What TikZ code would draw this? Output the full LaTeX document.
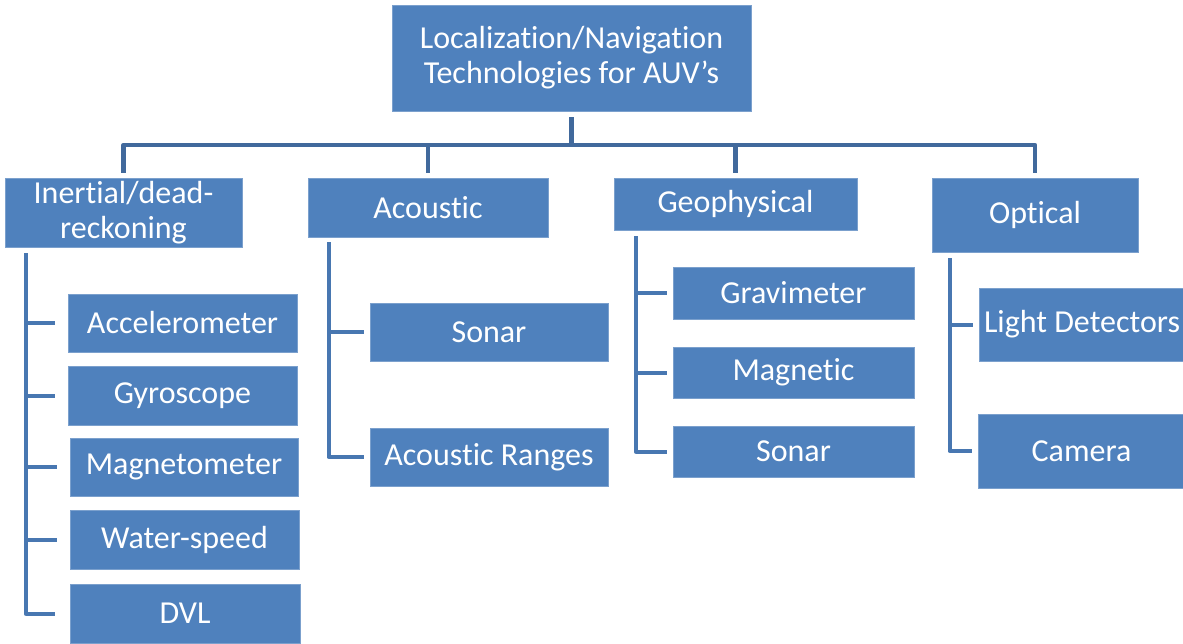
\documentclass[tikz,border=0pt]{standalone}
\usepackage{fontspec}
\setmainfont{Carlito}[Ligatures=NoCommon]
\definecolor{boxblue}{HTML}{4F81BD}
\definecolor{trunkblue}{HTML}{41699C}
\definecolor{branchblue}{HTML}{4877B1}
\tikzset{
  box/.style={rectangle, fill=boxblue, draw=boxblue!75!white, line width=0.8pt,
    inner sep=0pt, text=white, align=center,
    font=\fontsize{32}{35}\selectfont},
  trunk/.style={draw=trunkblue, line width=4.5pt, line join=round},
  branch/.style={draw=branchblue, line width=4pt, line join=round},
}
\begin{document}
\begin{tikzpicture}[x=1pt, y=-1pt]
\useasboundingbox (0,0) rectangle (1183,644);

% root and first level
\node[box, minimum width=359, minimum height=106] (root) at (571.5,58) {Localization/Navigation\\Technologies for AUV’s};
\node[box, minimum width=237, minimum height=69] (inert) at (123.5,212.5) {Inertial/dead-\\reckoning};
\node[box, minimum width=240, minimum height=59] (acous) at (428,207.5) {Acoustic};
\node[box, minimum width=243, minimum height=52] (geo) at (735.5,204) {Geophysical};
\node[box, minimum width=206, minimum height=74] (opt) at (1035,215) {Optical};

% inertial sensors
\node[box, minimum width=229, minimum height=58] (acc) at (182.5,323) {Accelerometer};
\node[box, minimum width=229, minimum height=59] (gyro) at (182.5,395.5) {Gyroscope};
\node[box, minimum width=228, minimum height=58] (magm) at (184,467) {Magnetometer};
\node[box, minimum width=229, minimum height=59] (water) at (184.5,539.5) {Water-speed};
\node[box, minimum width=230, minimum height=59] (dvl) at (185,613.5) {DVL};

% acoustic
\node[box, minimum width=238, minimum height=58] (sonA) at (489,332) {Sonar};
\node[box, minimum width=238, minimum height=58] (ranges) at (489,457) {Acoustic Ranges};

% geophysical
\node[box, minimum width=241, minimum height=52] (grav) at (793.5,293) {Gravimeter};
\node[box, minimum width=241, minimum height=51] (magn) at (793.5,372.5) {Magnetic};
\node[box, minimum width=241, minimum height=51] (sonG) at (793.5,451.5) {Sonar};

% optical
\node[box, minimum width=206, minimum height=73] (light) at (1082,324.5) {Light Detectors};
\node[box, minimum width=207, minimum height=74] (cam) at (1081.5,451) {Camera};

% top-level tree
\coordinate (bar) at (571.5,145);
\draw[trunk, shorten <=6pt] (root.south) -- (root.south |- bar);
\draw[trunk, shorten <=5pt, shorten >=5pt] (inert.north) -- (inert.north |- bar) -- (opt.north |- bar) -- (opt.north);
\draw[trunk, shorten >=5pt] (acous.north |- bar) -- (acous.north);
\draw[trunk, shorten >=5pt] (geo.north |- bar) -- (geo.north);

% spines under each group
\coordinate (s1) at ([xshift=21pt, yshift=-6pt]inert.south west);
\coordinate (s2) at ([xshift=21pt, yshift=-5pt]acous.south west);
\coordinate (s3) at ([xshift=22pt, yshift=-6pt]geo.south west);
\coordinate (s4) at ([xshift=18pt, yshift=-6pt]opt.south west);

\draw[branch, shorten >=15pt] (s1) |- (dvl.west);
\foreach \c in {acc,gyro,magm,water}
  \draw[branch, shorten >=13pt] (s1 |- \c.west) -- (\c.west);

\draw[branch, shorten >=6pt] (s2) |- (ranges.west);
\draw[branch, shorten >=6pt] (s2 |- sonA.west) -- (sonA.west);

\draw[branch, shorten >=6pt] (s3) |- (sonG.west);
\foreach \c in {grav,magn}
  \draw[branch, shorten >=6pt] (s3 |- \c.west) -- (\c.west);

\draw[branch, shorten >=6pt] (s4) |- (cam.west);
\draw[branch, shorten >=6pt] (s4 |- light.west) -- (light.west);
\end{tikzpicture}
\end{document}
